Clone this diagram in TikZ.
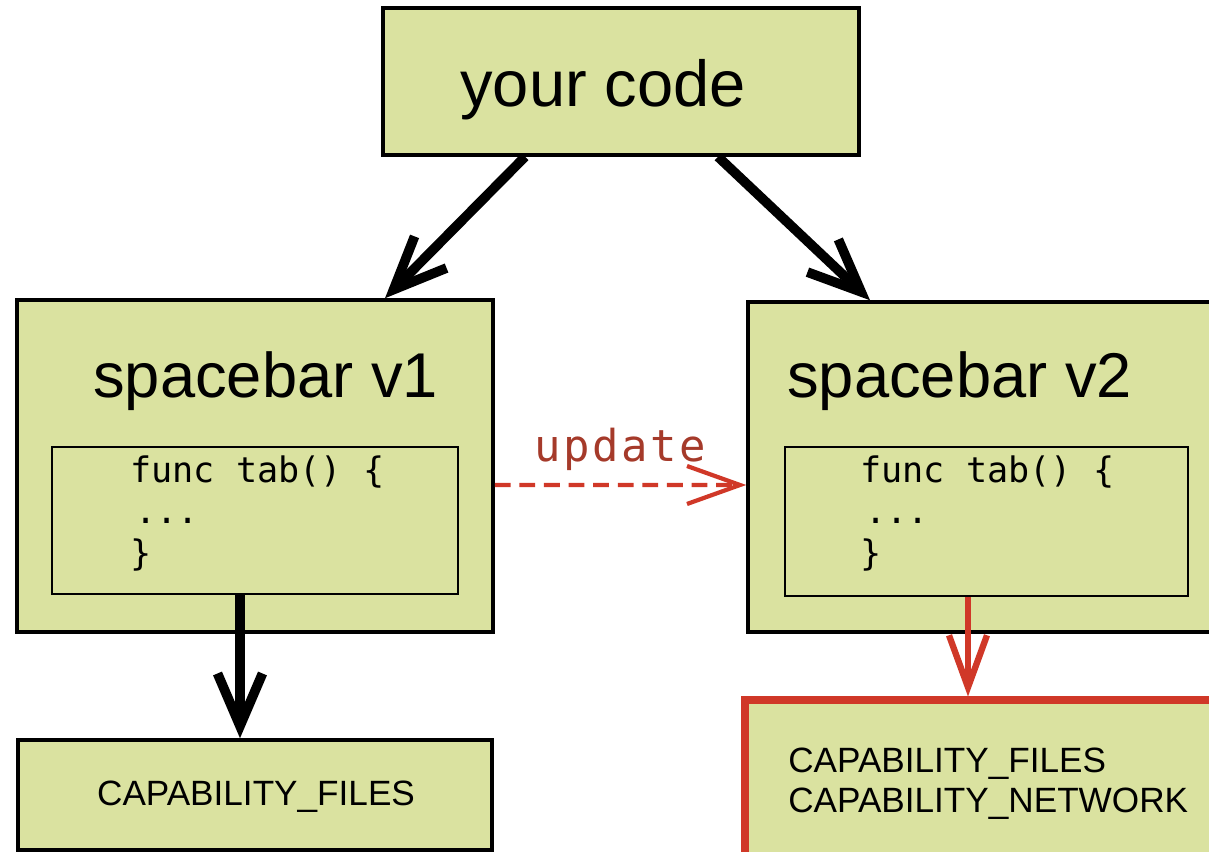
\documentclass[tikz,border=0pt]{standalone}
\usepackage{fontspec}
\setmainfont{Liberation Sans}
\setmonofont{DejaVu Sans Mono}
\usepackage{tikz}
\usetikzlibrary{arrows.meta, positioning}
\definecolor{boxgreen}{RGB}{218,226,160}
\definecolor{penred}{RGB}{208,56,40}
\definecolor{labelred}{RGB}{165,58,42}

\begin{document}
\begin{tikzpicture}[
            box/.style={draw, line width=2pt, fill=boxgreen, inner sep=0pt},
            codebox/.style={draw, line width=1.4pt, inner sep=0pt},
            title/.style={font=\fontsize{36}{40}\selectfont, inner sep=0pt, anchor=base west},
            code/.style={font=\ttfamily\fontsize{20}{23.6}\selectfont, align=left, inner sep=0pt, anchor=west},
            capa/.style={font=\fontsize{20}{22.8}\selectfont, align=left, inner sep=0pt},
            arrow/.style={line width=5.5pt, -{Straight Barb[length=1.05cm, width=0.9cm]}},
            redarrow/.style={line width=3.6pt, draw=penred, -{Straight Barb[length=1.04cm, width=0.76cm]}}
        ]
        \useasboundingbox (0,0) rectangle (24.18,-17.04);

        % --- (a) Caller ---
        \node[box, minimum width=9.52cm, minimum height=2.94cm] (code) at (12.42, -1.63) {};
        \node[title, font=\fontsize{37}{40}\selectfont] (codetxt) at (9.2, -2.14) {your code};

        % --- (b) Old version ---
        \node[box, minimum width=9.52cm, minimum height=6.64cm] (v1) at (5.1, -9.32) {};
        \node[title] (v1title) at (1.86, -7.96) {spacebar v1};
        \node[codebox, minimum width=8.12cm, minimum height=2.94cm] (v1code) at (5.1, -10.41) {};
        \node[code] (v1func) at (2.6, -10.27) {func tab() \{\\\hspace{0.15em}...\\\}};

        % --- (c) New version ---
        \node[box, minimum width=9.34cm, minimum height=6.6cm] (v2) at (19.63, -9.34) {};
        \node[title] (v2title) at (15.74, -7.96) {spacebar v2};
        \node[codebox, minimum width=8.06cm, minimum height=2.98cm] (v2code) at (19.73, -10.43) {};
        \node[code] (v2func) at (17.2, -10.27) {func tab() \{\\\hspace{0.15em}...\\\}};

        % --- (d) Capabilities ---
        \node[box, minimum width=9.48cm, minimum height=2.2cm] (cap1) at (5.1, -15.9) {};
        \node[capa] (cap1txt) at (5.12, -15.94) {CAPABILITY\_FILES};
        \node[box, draw=penred, line width=4pt, minimum width=9.4cm, minimum height=3.12cm] (cap2) at (19.6, -15.56) {};
        \node[capa, anchor=west] (cap2txt) at (15.76, -15.67) {CAPABILITY\_FILES\\CAPABILITY\_NETWORK};

        % --- arrows ---
        \draw[arrow] ([xshift=-1.92cm]code.south)--([xshift=2.6cm]v1.north);
        \draw[arrow] ([xshift=1.94cm]code.south)--([xshift=-2.23cm]v2.north);
        \draw[arrow] ([xshift=-0.3cm]v1code.south)--([xshift=-0.3cm]cap1.north);
        \draw[redarrow] ([xshift=-0.37cm]v2code.south)--([xshift=-0.24cm]cap2.north);
        \draw[penred, line width=2.4pt, dash pattern=on 9pt off 5pt,
              -{Straight Barb[length=1.06cm, width=0.76cm]}]
            ([yshift=-0.38cm]v1.east)
            -- node[above=0.24cm, inner sep=0pt, text=labelred,
                    font=\ttfamily\fontsize{25}{27}\selectfont\addfontfeature{LetterSpace=6}] (upd) {update}
            ([yshift=-0.36cm]v2.west);

        \end{tikzpicture}
\end{document}
